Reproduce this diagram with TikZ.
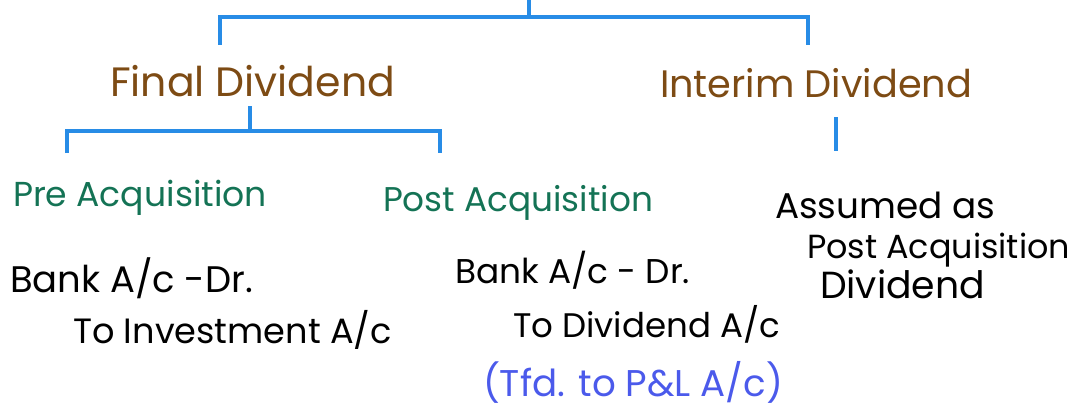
\documentclass[tikz,border=0pt]{standalone}
\usepackage{fontspec}
\usepackage{graphicx}
\setmainfont{Poppins}
\definecolor{lineblue}{RGB}{40,140,230}
\definecolor{hbrown}{RGB}{125,75,20}
\definecolor{hgreen}{RGB}{20,115,85}
\definecolor{hblue}{RGB}{75,90,235}
\newcommand\hw[2]{\resizebox{#1pt}{!}{#2}}
\tikzset{
  txt/.style={anchor=base west, inner sep=0pt, outer sep=0pt},
  head/.style={txt, text=hbrown},
  sub/.style={txt, text=hgreen},
  body/.style={txt, text=black},
  note/.style={txt, text=hblue},
  tree/.style={draw=lineblue, line width=4pt, line join=miter}
}
\begin{document}
\begin{tikzpicture}[x=1pt,y=-1pt]
\useasboundingbox (0,0) rectangle (1078,412);
% tree coordinates
\coordinate (top) at (529,-2);
\coordinate (jt) at (529,17);
\coordinate (l1) at (220,17);
\coordinate (r1) at (808,17);
\coordinate (l1e) at (220,45);
\coordinate (r1e) at (808,45);
\coordinate (f1) at (250,106);
\coordinate (fj) at (250,131);
\coordinate (fl) at (67,131);
\coordinate (fr) at (440,131);
\coordinate (fle) at (67,153);
\coordinate (fre) at (440,153);
\coordinate (i1) at (836,117);
\coordinate (i2) at (836,151);
% texts
\node[head] (final) at (110,96) {\hw{285}{Final Dividend}};
\node[head] (interim) at (660,97) {\hw{312}{Interim Dividend}};
\node[sub] (pre) at (13,206) {\hw{254}{Pre Acquisition}};
\node[sub] (post) at (383,211) {\hw{270}{Post Acquisition}};
\node[body] (bank1) at (10,292) {\hw{243}{Bank A/c -Dr.}};
\node[body] (toinv) at (73,343) {\hw{319}{To Investment A/c}};
\node[body] (bank2) at (455,283) {\hw{235}{Bank A/c - Dr.}};
\node[body] (todiv) at (513,337) {\hw{267}{To Dividend A/c}};
\node[note] (tfd) at (483,396) {\hw{300}{(Tfd. to P\&L A/c)}};
\node[body] (assumed) at (775,218) {\hw{220}{Assumed as}};
\node[body] (postacq) at (807,258) {\hw{263}{Post Acquisition}};
\node[body] (divd) at (820,298) {\hw{165}{Dividend}};
% connectors
\draw[tree] (top) -- (jt);
\draw[tree] (l1e) -- (l1) -- (r1) -- (r1e);
\draw[tree] (f1) -- (fj);
\draw[tree] (fle) -- (fl) -- (fr) -- (fre);
\draw[tree] (i1) -- (i2);
\end{tikzpicture}
\end{document}
